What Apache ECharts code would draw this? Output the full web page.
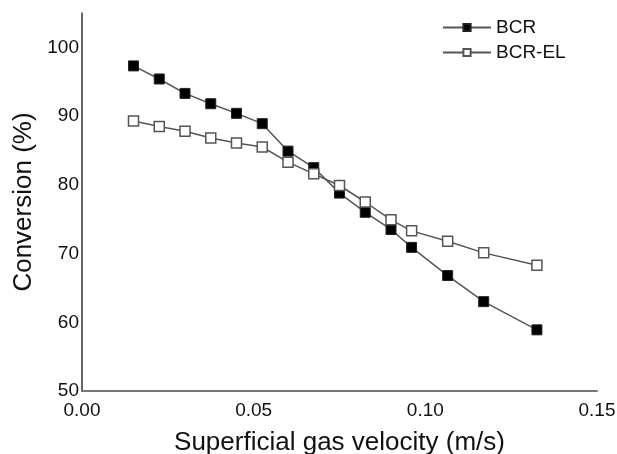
<!DOCTYPE html>
<html>
<head>
<meta charset="utf-8">
<script src="https://cdn.jsdelivr.net/npm/echarts@6/dist/echarts.min.js"></script>
<style>html,body{margin:0;padding:0;background:#fff;}#c{width:617px;height:454px;}</style>
</head>
<body>
<div id="c"></div>
<script>
var velocity = [0.015, 0.0225, 0.03, 0.0375, 0.045, 0.0525, 0.06, 0.0675, 0.075, 0.0825, 0.09, 0.096, 0.1065, 0.117, 0.1325];
var bcr   = [97.3, 95.4, 93.3, 91.8, 90.4, 88.9, 84.9, 82.5, 78.8, 76.0, 73.5, 70.9, 66.8, 63.0, 58.9];
var bcrEl = [89.3, 88.5, 87.8, 86.8, 86.1, 85.5, 83.3, 81.6, 79.9, 77.5, 74.9, 73.3, 71.8, 70.1, 68.3];
var seriesNames = ['BCR', 'BCR-EL'];
var xTitle = 'Superficial gas velocity (m/s)';
var yTitle = 'Conversion (%)';

function pairs(xs, ys) { return xs.map(function (x, i) { return [x, ys[i]]; }); }

var font = 'Liberation Sans, Arial, sans-serif';
var chart = echarts.init(document.getElementById('c'), null, { renderer: 'canvas' });
chart.setOption({
  animation: false,
  backgroundColor: '#fff',
  textStyle: { fontFamily: font },
  grid: { left: 82, right: 20, top: 13, bottom: 63, outerBoundsMode: 'none', containLabel: false },
  legend: {
    orient: 'vertical',
    left: 437,
    top: 13,
    itemWidth: 48,
    itemHeight: 9,
    itemGap: 6,
    textStyle: { fontSize: 19, color: '#111', fontFamily: font },
    data: seriesNames
  },
  xAxis: {
    type: 'value',
    min: 0, max: 0.15, interval: 0.05,
    name: xTitle,
    nameLocation: 'middle',
    nameGap: 39,
    nameTextStyle: { fontSize: 26, color: '#111', fontFamily: font },
    axisLine: { show: true, onZero: false, lineStyle: { color: '#777', width: 2 } },
    axisTick: { show: false },
    splitLine: { show: false },
    axisLabel: { fontSize: 19, color: '#111', margin: 10, formatter: function (v) { return v.toFixed(2); } }
  },
  yAxis: {
    type: 'value',
    min: 50, max: 105, interval: 10,
    name: yTitle,
    nameLocation: 'middle',
    nameGap: 45,
    nameTextStyle: { fontSize: 26, color: '#111', fontFamily: font },
    axisLine: { show: true, lineStyle: { color: '#333', width: 1.5 } },
    axisTick: { show: false },
    splitLine: { show: false },
    axisLabel: { fontSize: 19, color: '#111', margin: 3, showMaxLabel: false }
  },
  series: [
    {
      name: seriesNames[0], type: 'line',
      data: pairs(velocity, bcr),
      symbol: 'rect', symbolSize: 10,
      lineStyle: { color: '#555', width: 1.5 },
      itemStyle: { color: '#000', borderColor: '#222', borderWidth: 1 }
    },
    {
      name: seriesNames[1], type: 'line',
      data: pairs(velocity, bcrEl),
      symbol: 'rect', symbolSize: 10,
      lineStyle: { color: '#555', width: 1.5 },
      itemStyle: { color: '#fff', borderColor: '#555', borderWidth: 1.5 }
    }
  ]
});
</script>
</body>
</html>
